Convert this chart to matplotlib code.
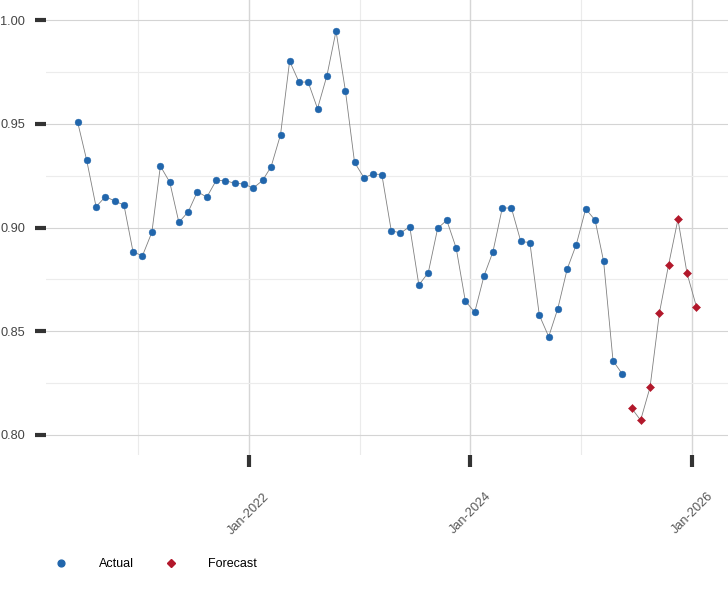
import matplotlib
matplotlib.use("Agg")
import matplotlib.pyplot as plt
import matplotlib.dates as mdates
from matplotlib.lines import Line2D
import pandas as pd
import numpy as np

plt.rcParams['font.family'] = ['Liberation Sans', 'DejaVu Sans']

# ---- data ----
actual_start = "2020-06-15"
actual_values = [
    0.951, 0.9325, 0.910, 0.9149, 0.9128, 0.9108, 0.8882, 0.8864, 0.8977, 0.9296,
    0.9218, 0.9025, 0.9076, 0.9173, 0.9146, 0.9227, 0.9226, 0.9213, 0.9210, 0.9190,
    0.9227, 0.9293, 0.9447, 0.9802, 0.9701, 0.9701, 0.9573, 0.9732, 0.9947, 0.9658,
    0.9314, 0.9240, 0.9258, 0.9255, 0.8985, 0.8973, 0.9004, 0.8723, 0.8782, 0.8996,
    0.9035, 0.8901, 0.8647, 0.8591, 0.8768, 0.8882, 0.9094, 0.9094, 0.8933, 0.8927,
    0.8578, 0.8474, 0.8609, 0.8800, 0.8918, 0.9090, 0.9035, 0.8837, 0.8358, 0.8295,
]
forecast_start = "2025-06-15"
forecast_values = [0.8130, 0.8071, 0.8230, 0.8589, 0.8819, 0.9039, 0.8779, 0.8618]

y_ticks = [0.80, 0.85, 0.90, 0.95, 1.00]
x_tick_labels = ["Jan-2022", "Jan-2024", "Jan-2026"]
x_tick_dates = ["2022-01-01", "2024-01-01", "2026-01-01"]
x_minor_dates = ["2021-01-01", "2023-01-01", "2025-01-01"]
series_names = ["Actual", "Forecast"]

actual_dates = pd.date_range(actual_start, periods=len(actual_values), freq=pd.DateOffset(months=1))
forecast_dates = pd.date_range(forecast_start, periods=len(forecast_values), freq=pd.DateOffset(months=1))

# ---- figure ----
fig = plt.figure(figsize=(7.28, 6.0), dpi=100)
ax = fig.add_axes([46/728, 1 - 455/600, 1 - 46/728, 455/600])

blue = "#2166ac"
red = "#b2182b"
line_c = "#808080"

ax.plot(actual_dates, actual_values, color=line_c, lw=0.6, zorder=2)
ax.plot(forecast_dates, forecast_values, color=line_c, lw=0.6, zorder=2)
ax.plot(actual_dates, actual_values, ls="none", marker="o", ms=4.9,
        mfc=blue, mec=blue, mew=0.3, zorder=3)
ax.plot(forecast_dates, forecast_values, ls="none", marker="D", ms=4.3,
        mfc=red, mec=red, mew=0.4, zorder=3)

ax.set_ylim(0.79036, 1.00964)
ax.set_xlim(pd.Timestamp("2020-03-03"), pd.Timestamp("2026-04-29"))

ax.set_yticks(y_ticks)
ax.set_yticklabels([f"{v:.2f}" for v in y_ticks])
ax.set_yticks([0.825, 0.875, 0.925, 0.975], minor=True)
ax.set_xticks(pd.to_datetime(x_tick_dates))
ax.set_xticklabels(x_tick_labels, rotation=45, ha="center")
ax.set_xticks(pd.to_datetime(x_minor_dates), minor=True)

ax.grid(which="major", axis="y", color="#d4d4d4", lw=0.8)
ax.grid(which="minor", axis="y", color="#ececec", lw=0.8)
ax.grid(which="major", axis="x", color="#d6d6d6", lw=1.0)
ax.grid(which="minor", axis="x", color="#ebebeb", lw=0.8)
ax.set_axisbelow(True)

for s in ax.spines.values():
    s.set_visible(False)

ax.tick_params(axis="y", which="major", direction="out", length=8, width=3,
               color="#333333", labelcolor="#444444", labelsize=9.2, pad=7)
ax.tick_params(axis="x", which="major", direction="out", length=8.5, width=3,
               color="#333333", labelcolor="#555555", labelsize=9.2, pad=17)
ax.tick_params(which="minor", length=0)

handles = [
    Line2D([], [], ls="none", marker="o", ms=4.9, mfc=blue, mec=blue),
    Line2D([], [], ls="none", marker="D", ms=4.3, mfc=red, mec=red),
]
fig.legend(handles, series_names, loc="center left",
           bbox_to_anchor=(55/728, 1 - 564/600), ncol=2, frameon=False,
           fontsize=9, handlelength=1.0, handletextpad=2.5, columnspacing=2.45,
           borderpad=0.0, borderaxespad=0.0)

fig.savefig("out.png", dpi=100)
